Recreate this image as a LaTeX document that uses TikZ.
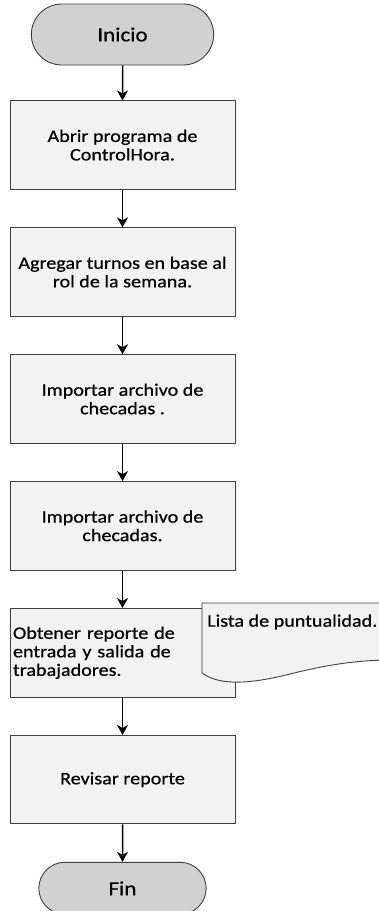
\documentclass[tikz,border=0pt]{standalone}
\usepackage{fontspec}
\setmainfont{Carlito}[FakeStretch=1.15, FakeBold=0.6]
\usetikzlibrary{arrows.meta,positioning,shapes.misc}

\begin{document}
\begin{tikzpicture}[x=1pt, y=-1pt,
  box/.style={draw=black!75, line width=0.9pt, fill=black!5, align=center,
              font=\fontsize{17.5}{18.5}\selectfont,
              minimum width=225pt, minimum height=88.5pt, inner sep=3pt},
  term/.style={draw=black!75, line width=0.9pt, fill=black!18, rounded rectangle,
               font=\fontsize{20}{22}\selectfont, minimum height=61pt, minimum width=189pt},
  arr/.style={-{Stealth[length=10pt, width=11pt, inset=3pt]}, line width=1.5pt}]
  \useasboundingbox (0,0) rectangle (379,911);
  \node[term] (inicio) at (122.5,34.5) {Inicio};
  \node[box, below=35pt of inicio] (abrir) {Abrir programa de\\ ControlHora.};
  \node[box, below=37.5pt of abrir] (turnos) {Agregar turnos en base al\\ rol de la semana.};
  \node[box, below=37.5pt of turnos] (import1) {Importar archivo de\\ checadas .};
  \node[box, below=37.5pt of import1] (import2) {Importar archivo de\\ checadas.};
  \node[box, below=37.5pt of import2, align=left, text width=219pt] (reporte)
    {Obtener reporte de\\ entrada y salida de\\ trabajadores.};
  \node[box, below=37.5pt of reporte] (revisar) {Revisar reporte};
  \node[term, below=37.5pt of revisar, minimum height=52pt, minimum width=174pt] (fin) {Fin};
  % documento de salida
  \draw[draw=black!75, line width=0.9pt, fill=black!5]
    (202,603) -- (392,603) -- (392,660)
    .. controls (360,660) and (330,664) .. (290,674)
    .. controls (250,684) and (220,686) .. (202,673) -- cycle;
  \node[anchor=west, font=\fontsize{17.5}{18.5}\selectfont, inner sep=0pt] (lista) at (207,622) {Lista de puntualidad.};
  \draw[arr] (inicio) -- (abrir); \draw[arr] (abrir) -- (turnos);
  \draw[arr] (turnos) -- (import1); \draw[arr] (import1) -- (import2);
  \draw[arr] (import2) -- (reporte); \draw[arr] (reporte) -- (revisar);
  \draw[arr] (revisar) -- (fin);
\end{tikzpicture}
\end{document}
